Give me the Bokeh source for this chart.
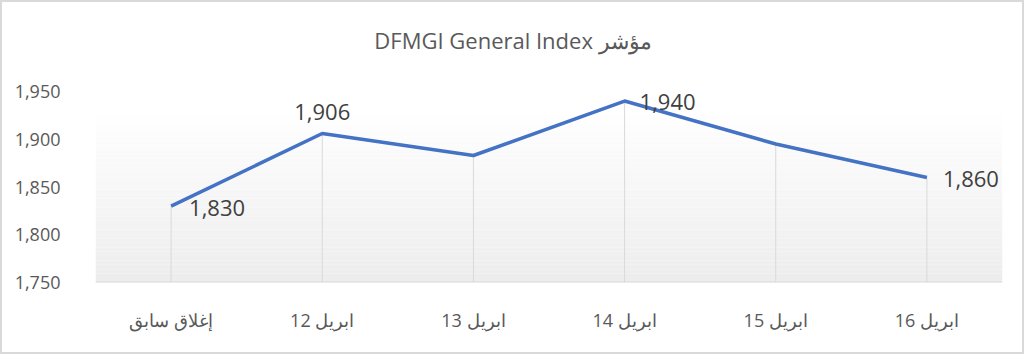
from bokeh.plotting import figure
from bokeh.models import (Range1d, FixedTicker, NumeralTickFormatter, Label)
from bokeh.embed import file_html
from bokeh.resources import INLINE

# ---- data ----
categories = ["إغلاق سابق", "12 ابريل", "13 ابريل", "14 ابريل", "15 ابريل", "16 ابريل"]
values = [1830, 1906, 1883, 1940, 1895, 1860]
y_ticks = [1750, 1800, 1850, 1900, 1950]
labeled_idx = [0, 1, 3, 5]
title_text = "DFMGI General Index مؤشر"

# ---- styles / layout ----
LINE_COLOR = "#4472C4"
GRID_COLOR = "#d9d9d9"
TEXT_COLOR = "#595959"
LABEL_COLOR = "#404040"
FONT = "Open Sans"
FRAME_W = 907
AXIS_PX = 191          # pixel height of the value axis (1750 -> 1950)
TOP_PX = 89            # space above the value axis holding the title
TITLE_PX = 37          # title centre, px from top
label_style = {
    0: dict(x_offset=18, y_offset=-2, text_align="left"),
    1: dict(x_offset=0, y_offset=22, text_align="center"),
    3: dict(x_offset=15, y_offset=-1, text_align="left"),
    5: dict(x_offset=16, y_offset=-2, text_align="left"),
}

x = list(range(len(categories)))
y_min, y_max = y_ticks[0], y_ticks[-1]
units_per_px = (y_max - y_min) / AXIS_PX
y_top = y_max + TOP_PX * units_per_px

p = figure(frame_width=FRAME_W, frame_height=AXIS_PX + TOP_PX, output_backend="svg",
           toolbar_location=None,
           x_range=Range1d(-0.5, len(categories) - 0.5),
           y_range=Range1d(y_min, y_top),
           min_border_left=93, min_border_right=20, min_border_top=0, min_border_bottom=70)
p.styles = {"border": "2px solid #d9d9d9"}
p.outline_line_color = None
p.background_fill_color = "white"
p.border_fill_color = "white"
p.grid.visible = False

# title
p.add_layout(Label(x=(len(categories) - 1) / 2, y=y_max + (TOP_PX - TITLE_PX) * units_per_px,
                   x_offset=-36, text=title_text, text_align="center", text_baseline="middle",
                   text_font=FONT, text_font_size="22px", text_color=TEXT_COLOR))

# gradient background bands (white at top -> light gray at bottom)
n_bands = 40
g_top = 1935
band_h = (g_top - y_min) / n_bands
bottoms, tops, colors = [], [], []
for i in range(n_bands):
    b = y_min + i * band_h
    t = b + band_h
    frac = i / (n_bands - 1)  # 0 bottom -> 1 top
    c = int(round(0xed + (0xff - 0xed) * frac))
    bottoms.append(b)
    tops.append(t + 0.01)
    colors.append("#%02x%02x%02x" % (c, c, c))
p.quad(left=-0.5, right=len(categories) - 0.5, bottom=bottoms, top=tops,
       fill_color=colors, line_color=None)

# drop lines
p.segment(x0=x, y0=[y_min] * len(x), x1=x, y1=values, line_color=GRID_COLOR, line_width=1)

# baseline
p.segment(x0=[-0.5], y0=[y_min], x1=[len(categories) - 0.5], y1=[y_min],
          line_color=GRID_COLOR, line_width=2)

# main line
p.line(x, values, line_color=LINE_COLOR, line_width=3.5, line_join="round")

# data labels
for i in labeled_idx:
    st = label_style[i]
    p.add_layout(Label(x=x[i], y=values[i], text=f"{values[i]:,}",
                       x_offset=st["x_offset"], y_offset=st["y_offset"],
                       text_align=st["text_align"], text_baseline="middle",
                       text_font=FONT, text_font_size="22px", text_color=LABEL_COLOR))

# axes
p.xaxis.ticker = FixedTicker(ticks=x)
p.xaxis.major_label_overrides = {i: c for i, c in zip(x, categories)}
p.yaxis.ticker = FixedTicker(ticks=y_ticks)
p.yaxis.formatter = NumeralTickFormatter(format="0,0")
for ax in (p.xaxis, p.yaxis):
    ax.axis_line_color = None
    ax.major_tick_line_color = None
    ax.minor_tick_line_color = None
    ax.major_label_text_font = FONT
    ax.major_label_text_font_size = "18px"
    ax.major_label_text_color = TEXT_COLOR
p.xaxis.major_label_standoff = 19
p.yaxis.major_label_standoff = 29

open("out.html", "w").write(file_html(p, INLINE))
